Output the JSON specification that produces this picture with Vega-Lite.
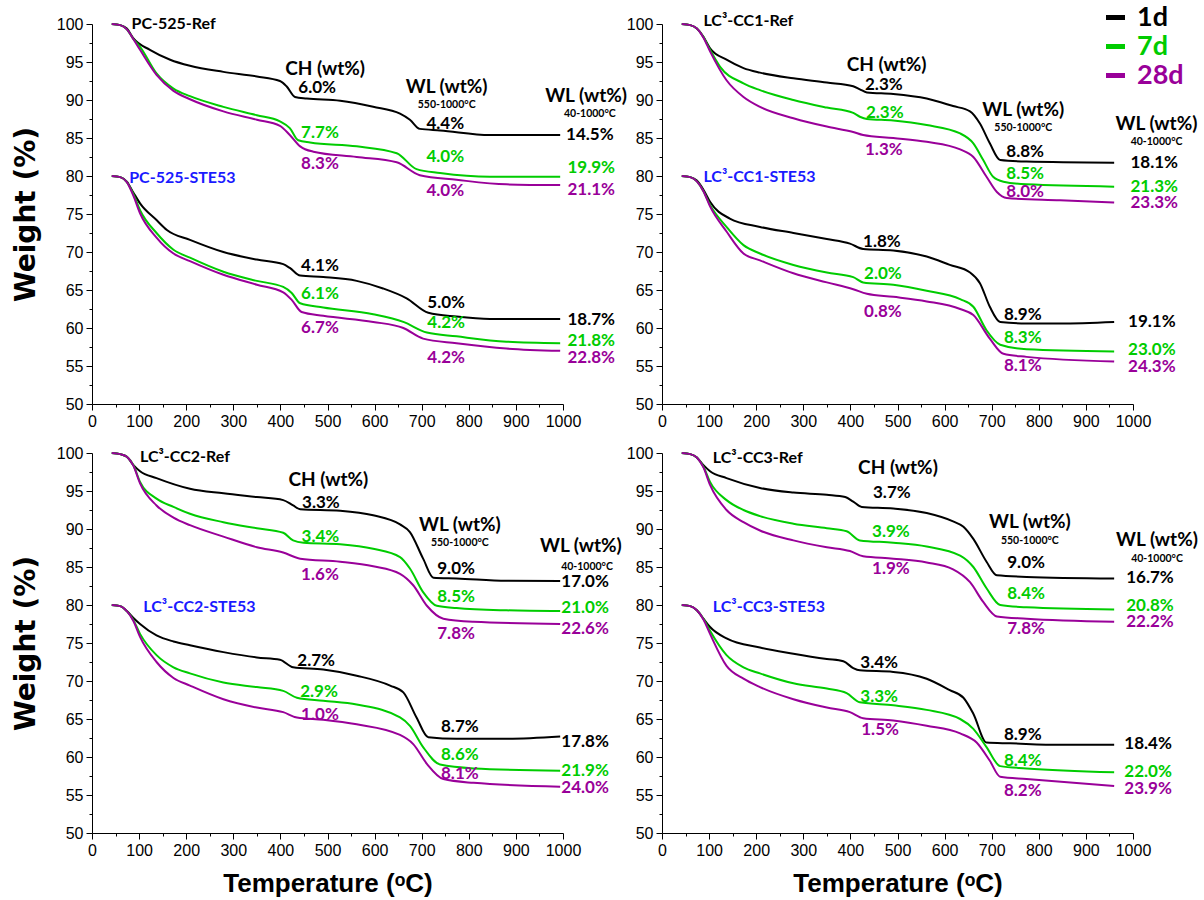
{
"$schema":"https://vega.github.io/schema/vega-lite/v6.json",
"padding":{"left":12,"top":4,"right":5,"bottom":5},
"background":"white",
"config":{
 "view":{"stroke":null},
 "font":"Lato",
 "axis":{"grid":false,"domainColor":"#000000","tickColor":"#000000","labelColor":"#000000","labelFont":"Liberation Sans","labelFontSize":16,"tickSize":6,"labelPadding":3,"titleColor":"#000000","titleFontWeight":"bold","labelOverlap":false,"labelFlush":false,"format":"d"},
 "axisX":{"titleFont":"Liberation Sans","titleFontSize":26,"titlePadding":12},
 "axisY":{"titleFont":"DejaVu Sans","titleFontSize":28,"titlePadding":16},
 "legend":{"orient":"none","legendX":1010,"legendY":-20,"symbolType":"stroke","symbolStrokeWidth":5,"symbolSize":360,"labelFont":"Lato","labelFontWeight":"bold","labelFontSize":27,"labelOffset":8,"rowPadding":1,"padding":0},
 "style":{
  "val":{"font":"Lato","fontWeight":"bold","fontSize":17,"align":"center","baseline":"middle"},
  "hdr":{"font":"Lato","fontWeight":"bold","fontSize":19,"align":"center","baseline":"middle","color":"#000000"},
  "sub":{"font":"Lato","fontWeight":"bold","fontSize":10.5,"align":"center","baseline":"middle","color":"#000000"},
  "tr":{"font":"Lato","fontWeight":"bold","fontSize":16,"align":"left","baseline":"middle","color":"#000000"},
  "te":{"font":"Lato","fontWeight":"bold","fontSize":16,"align":"left","baseline":"middle","color":"#1a1aff"}
 }
},
"datasets":{
"L":[
{"p":"PC","g":"R","a":"1d","T":42,"w":100},{"p":"PC","g":"R","a":"1d","T":60,"w":99.85},{"p":"PC","g":"R","a":"1d","T":74,"w":99.4},{"p":"PC","g":"R","a":"1d","T":88,"w":98.1},{"p":"PC","g":"R","a":"1d","T":123,"w":96.6},{"p":"PC","g":"R","a":"1d","T":166,"w":95.3},{"p":"PC","g":"R","a":"1d","T":208,"w":94.5},{"p":"PC","g":"R","a":"1d","T":279,"w":93.7},{"p":"PC","g":"R","a":"1d","T":350,"w":93.1},{"p":"PC","g":"R","a":"1d","T":399,"w":92.5},{"p":"PC","g":"R","a":"1d","T":413,"w":91.8},{"p":"PC","g":"R","a":"1d","T":431,"w":90.4},{"p":"PC","g":"R","a":"1d","T":456,"w":90.2},{"p":"PC","g":"R","a":"1d","T":527,"w":89.9},{"p":"PC","g":"R","a":"1d","T":597,"w":89.1},{"p":"PC","g":"R","a":"1d","T":654,"w":88.2},{"p":"PC","g":"R","a":"1d","T":675,"w":87.4},{"p":"PC","g":"R","a":"1d","T":696,"w":86.2},{"p":"PC","g":"R","a":"1d","T":739,"w":86.0},{"p":"PC","g":"R","a":"1d","T":845,"w":85.4},{"p":"PC","g":"R","a":"1d","T":994,"w":85.4},
{"p":"PC","g":"R","a":"7d","T":42,"w":100},{"p":"PC","g":"R","a":"7d","T":60,"w":99.85},{"p":"PC","g":"R","a":"7d","T":74,"w":99.3},{"p":"PC","g":"R","a":"7d","T":88,"w":98.0},{"p":"PC","g":"R","a":"7d","T":102,"w":97.0},{"p":"PC","g":"R","a":"7d","T":137,"w":93.5},{"p":"PC","g":"R","a":"7d","T":173,"w":91.5},{"p":"PC","g":"R","a":"7d","T":208,"w":90.5},{"p":"PC","g":"R","a":"7d","T":279,"w":89.1},{"p":"PC","g":"R","a":"7d","T":350,"w":88.0},{"p":"PC","g":"R","a":"7d","T":399,"w":87.2},{"p":"PC","g":"R","a":"7d","T":420,"w":86.3},{"p":"PC","g":"R","a":"7d","T":438,"w":84.7},{"p":"PC","g":"R","a":"7d","T":463,"w":84.4},{"p":"PC","g":"R","a":"7d","T":562,"w":83.9},{"p":"PC","g":"R","a":"7d","T":647,"w":83.0},{"p":"PC","g":"R","a":"7d","T":689,"w":80.9},{"p":"PC","g":"R","a":"7d","T":739,"w":80.4},{"p":"PC","g":"R","a":"7d","T":845,"w":79.9},{"p":"PC","g":"R","a":"7d","T":994,"w":79.9},
{"p":"PC","g":"R","a":"28d","T":42,"w":100},{"p":"PC","g":"R","a":"28d","T":60,"w":99.85},{"p":"PC","g":"R","a":"28d","T":74,"w":99.3},{"p":"PC","g":"R","a":"28d","T":88,"w":98.0},{"p":"PC","g":"R","a":"28d","T":102,"w":96.6},{"p":"PC","g":"R","a":"28d","T":137,"w":93.3},{"p":"PC","g":"R","a":"28d","T":173,"w":91.2},{"p":"PC","g":"R","a":"28d","T":208,"w":90.1},{"p":"PC","g":"R","a":"28d","T":279,"w":88.5},{"p":"PC","g":"R","a":"28d","T":350,"w":87.4},{"p":"PC","g":"R","a":"28d","T":399,"w":86.6},{"p":"PC","g":"R","a":"28d","T":420,"w":85.4},{"p":"PC","g":"R","a":"28d","T":442,"w":83.9},{"p":"PC","g":"R","a":"28d","T":470,"w":83.2},{"p":"PC","g":"R","a":"28d","T":562,"w":82.5},{"p":"PC","g":"R","a":"28d","T":647,"w":81.8},{"p":"PC","g":"R","a":"28d","T":696,"w":80.1},{"p":"PC","g":"R","a":"28d","T":774,"w":79.5},{"p":"PC","g":"R","a":"28d","T":880,"w":78.9},{"p":"PC","g":"R","a":"28d","T":994,"w":78.8},
{"p":"PC","g":"S","a":"1d","T":42,"w":80},{"p":"PC","g":"S","a":"1d","T":60,"w":79.85},{"p":"PC","g":"S","a":"1d","T":74,"w":79.25},{"p":"PC","g":"S","a":"1d","T":88,"w":77.8},{"p":"PC","g":"S","a":"1d","T":102,"w":76.4},{"p":"PC","g":"S","a":"1d","T":137,"w":74.2},{"p":"PC","g":"S","a":"1d","T":159,"w":72.9},{"p":"PC","g":"S","a":"1d","T":208,"w":71.6},{"p":"PC","g":"S","a":"1d","T":279,"w":70.0},{"p":"PC","g":"S","a":"1d","T":350,"w":69.0},{"p":"PC","g":"S","a":"1d","T":406,"w":68.4},{"p":"PC","g":"S","a":"1d","T":420,"w":67.9},{"p":"PC","g":"S","a":"1d","T":442,"w":66.9},{"p":"PC","g":"S","a":"1d","T":491,"w":66.7},{"p":"PC","g":"S","a":"1d","T":562,"w":66.2},{"p":"PC","g":"S","a":"1d","T":618,"w":65.2},{"p":"PC","g":"S","a":"1d","T":668,"w":63.9},{"p":"PC","g":"S","a":"1d","T":714,"w":62.0},{"p":"PC","g":"S","a":"1d","T":774,"w":61.5},{"p":"PC","g":"S","a":"1d","T":845,"w":61.2},{"p":"PC","g":"S","a":"1d","T":994,"w":61.2},
{"p":"PC","g":"S","a":"7d","T":42,"w":80},{"p":"PC","g":"S","a":"7d","T":60,"w":79.85},{"p":"PC","g":"S","a":"7d","T":74,"w":79.2},{"p":"PC","g":"S","a":"7d","T":88,"w":77.6},{"p":"PC","g":"S","a":"7d","T":102,"w":75.5},{"p":"PC","g":"S","a":"7d","T":137,"w":72.5},{"p":"PC","g":"S","a":"7d","T":173,"w":70.3},{"p":"PC","g":"S","a":"7d","T":208,"w":69.25},{"p":"PC","g":"S","a":"7d","T":279,"w":67.4},{"p":"PC","g":"S","a":"7d","T":350,"w":66.2},{"p":"PC","g":"S","a":"7d","T":406,"w":65.4},{"p":"PC","g":"S","a":"7d","T":424,"w":64.6},{"p":"PC","g":"S","a":"7d","T":442,"w":63.25},{"p":"PC","g":"S","a":"7d","T":491,"w":62.7},{"p":"PC","g":"S","a":"7d","T":597,"w":61.8},{"p":"PC","g":"S","a":"7d","T":661,"w":60.8},{"p":"PC","g":"S","a":"7d","T":711,"w":59.4},{"p":"PC","g":"S","a":"7d","T":774,"w":58.9},{"p":"PC","g":"S","a":"7d","T":880,"w":58.2},{"p":"PC","g":"S","a":"7d","T":994,"w":58.0},
{"p":"PC","g":"S","a":"28d","T":42,"w":80},{"p":"PC","g":"S","a":"28d","T":60,"w":79.85},{"p":"PC","g":"S","a":"28d","T":74,"w":79.2},{"p":"PC","g":"S","a":"28d","T":88,"w":77.4},{"p":"PC","g":"S","a":"28d","T":102,"w":75.1},{"p":"PC","g":"S","a":"28d","T":137,"w":71.9},{"p":"PC","g":"S","a":"28d","T":173,"w":69.8},{"p":"PC","g":"S","a":"28d","T":208,"w":68.8},{"p":"PC","g":"S","a":"28d","T":279,"w":67.0},{"p":"PC","g":"S","a":"28d","T":350,"w":65.7},{"p":"PC","g":"S","a":"28d","T":406,"w":64.7},{"p":"PC","g":"S","a":"28d","T":424,"w":63.7},{"p":"PC","g":"S","a":"28d","T":445,"w":62.1},{"p":"PC","g":"S","a":"28d","T":491,"w":61.6},{"p":"PC","g":"S","a":"28d","T":597,"w":60.8},{"p":"PC","g":"S","a":"28d","T":661,"w":60.0},{"p":"PC","g":"S","a":"28d","T":703,"w":58.6},{"p":"PC","g":"S","a":"28d","T":774,"w":58.0},{"p":"PC","g":"S","a":"28d","T":880,"w":57.3},{"p":"PC","g":"S","a":"28d","T":994,"w":57.0},
{"p":"C1","g":"R","a":"1d","T":42,"w":100},{"p":"C1","g":"R","a":"1d","T":60,"w":99.85},{"p":"C1","g":"R","a":"1d","T":74,"w":99.4},{"p":"C1","g":"R","a":"1d","T":88,"w":98.3},{"p":"C1","g":"R","a":"1d","T":102,"w":96.8},{"p":"C1","g":"R","a":"1d","T":137,"w":95.3},{"p":"C1","g":"R","a":"1d","T":173,"w":94.2},{"p":"C1","g":"R","a":"1d","T":208,"w":93.6},{"p":"C1","g":"R","a":"1d","T":279,"w":92.85},{"p":"C1","g":"R","a":"1d","T":350,"w":92.3},{"p":"C1","g":"R","a":"1d","T":406,"w":91.8},{"p":"C1","g":"R","a":"1d","T":420,"w":91.4},{"p":"C1","g":"R","a":"1d","T":435,"w":91.0},{"p":"C1","g":"R","a":"1d","T":491,"w":90.8},{"p":"C1","g":"R","a":"1d","T":562,"w":90.2},{"p":"C1","g":"R","a":"1d","T":618,"w":89.2},{"p":"C1","g":"R","a":"1d","T":654,"w":88.5},{"p":"C1","g":"R","a":"1d","T":675,"w":86.9},{"p":"C1","g":"R","a":"1d","T":696,"w":84.3},{"p":"C1","g":"R","a":"1d","T":718,"w":82.1},{"p":"C1","g":"R","a":"1d","T":774,"w":81.9},{"p":"C1","g":"R","a":"1d","T":960,"w":81.75},
{"p":"C1","g":"R","a":"7d","T":42,"w":100},{"p":"C1","g":"R","a":"7d","T":60,"w":99.85},{"p":"C1","g":"R","a":"7d","T":74,"w":99.4},{"p":"C1","g":"R","a":"7d","T":88,"w":98.3},{"p":"C1","g":"R","a":"7d","T":102,"w":96.6},{"p":"C1","g":"R","a":"7d","T":123,"w":94.4},{"p":"C1","g":"R","a":"7d","T":173,"w":92.2},{"p":"C1","g":"R","a":"7d","T":208,"w":91.3},{"p":"C1","g":"R","a":"7d","T":279,"w":90.0},{"p":"C1","g":"R","a":"7d","T":350,"w":89.0},{"p":"C1","g":"R","a":"7d","T":406,"w":88.3},{"p":"C1","g":"R","a":"7d","T":420,"w":87.8},{"p":"C1","g":"R","a":"7d","T":435,"w":87.5},{"p":"C1","g":"R","a":"7d","T":491,"w":87.3},{"p":"C1","g":"R","a":"7d","T":562,"w":86.7},{"p":"C1","g":"R","a":"7d","T":633,"w":85.6},{"p":"C1","g":"R","a":"7d","T":661,"w":84.3},{"p":"C1","g":"R","a":"7d","T":682,"w":82.1},{"p":"C1","g":"R","a":"7d","T":703,"w":79.9},{"p":"C1","g":"R","a":"7d","T":725,"w":79.25},{"p":"C1","g":"R","a":"7d","T":774,"w":78.9},{"p":"C1","g":"R","a":"7d","T":960,"w":78.6},
{"p":"C1","g":"R","a":"28d","T":42,"w":100},{"p":"C1","g":"R","a":"28d","T":60,"w":99.85},{"p":"C1","g":"R","a":"28d","T":74,"w":99.4},{"p":"C1","g":"R","a":"28d","T":88,"w":98.2},{"p":"C1","g":"R","a":"28d","T":102,"w":96.4},{"p":"C1","g":"R","a":"28d","T":137,"w":92.6},{"p":"C1","g":"R","a":"28d","T":173,"w":90.4},{"p":"C1","g":"R","a":"28d","T":208,"w":89.1},{"p":"C1","g":"R","a":"28d","T":279,"w":87.6},{"p":"C1","g":"R","a":"28d","T":350,"w":86.5},{"p":"C1","g":"R","a":"28d","T":406,"w":85.8},{"p":"C1","g":"R","a":"28d","T":427,"w":85.4},{"p":"C1","g":"R","a":"28d","T":491,"w":85.0},{"p":"C1","g":"R","a":"28d","T":562,"w":84.5},{"p":"C1","g":"R","a":"28d","T":633,"w":83.5},{"p":"C1","g":"R","a":"28d","T":661,"w":82.5},{"p":"C1","g":"R","a":"28d","T":689,"w":79.9},{"p":"C1","g":"R","a":"28d","T":711,"w":77.9},{"p":"C1","g":"R","a":"28d","T":732,"w":77.1},{"p":"C1","g":"R","a":"28d","T":845,"w":76.8},{"p":"C1","g":"R","a":"28d","T":960,"w":76.5},
{"p":"C1","g":"S","a":"1d","T":42,"w":80},{"p":"C1","g":"S","a":"1d","T":60,"w":79.85},{"p":"C1","g":"S","a":"1d","T":74,"w":79.4},{"p":"C1","g":"S","a":"1d","T":88,"w":78.2},{"p":"C1","g":"S","a":"1d","T":102,"w":76.6},{"p":"C1","g":"S","a":"1d","T":144,"w":74.4},{"p":"C1","g":"S","a":"1d","T":208,"w":73.3},{"p":"C1","g":"S","a":"1d","T":279,"w":72.5},{"p":"C1","g":"S","a":"1d","T":350,"w":71.7},{"p":"C1","g":"S","a":"1d","T":399,"w":71.1},{"p":"C1","g":"S","a":"1d","T":427,"w":70.4},{"p":"C1","g":"S","a":"1d","T":491,"w":70.2},{"p":"C1","g":"S","a":"1d","T":562,"w":69.4},{"p":"C1","g":"S","a":"1d","T":611,"w":68.3},{"p":"C1","g":"S","a":"1d","T":654,"w":67.3},{"p":"C1","g":"S","a":"1d","T":675,"w":65.9},{"p":"C1","g":"S","a":"1d","T":696,"w":62.8},{"p":"C1","g":"S","a":"1d","T":718,"w":60.8},{"p":"C1","g":"S","a":"1d","T":774,"w":60.6},{"p":"C1","g":"S","a":"1d","T":845,"w":60.6},{"p":"C1","g":"S","a":"1d","T":960,"w":60.8},
{"p":"C1","g":"S","a":"7d","T":42,"w":80},{"p":"C1","g":"S","a":"7d","T":60,"w":79.85},{"p":"C1","g":"S","a":"7d","T":74,"w":79.3},{"p":"C1","g":"S","a":"7d","T":88,"w":78.0},{"p":"C1","g":"S","a":"7d","T":102,"w":76.2},{"p":"C1","g":"S","a":"7d","T":137,"w":73.3},{"p":"C1","g":"S","a":"7d","T":173,"w":70.9},{"p":"C1","g":"S","a":"7d","T":208,"w":69.8},{"p":"C1","g":"S","a":"7d","T":279,"w":68.3},{"p":"C1","g":"S","a":"7d","T":350,"w":67.3},{"p":"C1","g":"S","a":"7d","T":406,"w":66.7},{"p":"C1","g":"S","a":"7d","T":427,"w":66.0},{"p":"C1","g":"S","a":"7d","T":491,"w":65.7},{"p":"C1","g":"S","a":"7d","T":562,"w":64.9},{"p":"C1","g":"S","a":"7d","T":633,"w":63.8},{"p":"C1","g":"S","a":"7d","T":661,"w":62.8},{"p":"C1","g":"S","a":"7d","T":689,"w":59.7},{"p":"C1","g":"S","a":"7d","T":718,"w":57.8},{"p":"C1","g":"S","a":"7d","T":774,"w":57.2},{"p":"C1","g":"S","a":"7d","T":960,"w":56.9},
{"p":"C1","g":"S","a":"28d","T":42,"w":80},{"p":"C1","g":"S","a":"28d","T":60,"w":79.85},{"p":"C1","g":"S","a":"28d","T":74,"w":79.3},{"p":"C1","g":"S","a":"28d","T":88,"w":78.0},{"p":"C1","g":"S","a":"28d","T":102,"w":76.0},{"p":"C1","g":"S","a":"28d","T":137,"w":72.7},{"p":"C1","g":"S","a":"28d","T":173,"w":69.8},{"p":"C1","g":"S","a":"28d","T":208,"w":68.9},{"p":"C1","g":"S","a":"28d","T":279,"w":67.2},{"p":"C1","g":"S","a":"28d","T":350,"w":66.0},{"p":"C1","g":"S","a":"28d","T":406,"w":65.1},{"p":"C1","g":"S","a":"28d","T":435,"w":64.5},{"p":"C1","g":"S","a":"28d","T":491,"w":64.1},{"p":"C1","g":"S","a":"28d","T":562,"w":63.5},{"p":"C1","g":"S","a":"28d","T":633,"w":62.5},{"p":"C1","g":"S","a":"28d","T":661,"w":61.7},{"p":"C1","g":"S","a":"28d","T":696,"w":58.6},{"p":"C1","g":"S","a":"28d","T":725,"w":56.6},{"p":"C1","g":"S","a":"28d","T":774,"w":56.2},{"p":"C1","g":"S","a":"28d","T":960,"w":55.6},
{"p":"C2","g":"R","a":"1d","T":42,"w":100},{"p":"C2","g":"R","a":"1d","T":60,"w":99.85},{"p":"C2","g":"R","a":"1d","T":74,"w":99.5},{"p":"C2","g":"R","a":"1d","T":88,"w":98.4},{"p":"C2","g":"R","a":"1d","T":102,"w":97.6},{"p":"C2","g":"R","a":"1d","T":137,"w":96.7},{"p":"C2","g":"R","a":"1d","T":208,"w":95.3},{"p":"C2","g":"R","a":"1d","T":279,"w":94.7},{"p":"C2","g":"R","a":"1d","T":350,"w":94.2},{"p":"C2","g":"R","a":"1d","T":406,"w":93.8},{"p":"C2","g":"R","a":"1d","T":427,"w":93.1},{"p":"C2","g":"R","a":"1d","T":442,"w":92.6},{"p":"C2","g":"R","a":"1d","T":527,"w":92.4},{"p":"C2","g":"R","a":"1d","T":597,"w":91.8},{"p":"C2","g":"R","a":"1d","T":654,"w":90.6},{"p":"C2","g":"R","a":"1d","T":675,"w":89.6},{"p":"C2","g":"R","a":"1d","T":703,"w":86.1},{"p":"C2","g":"R","a":"1d","T":725,"w":83.6},{"p":"C2","g":"R","a":"1d","T":774,"w":83.5},{"p":"C2","g":"R","a":"1d","T":880,"w":83.2},{"p":"C2","g":"R","a":"1d","T":994,"w":83.15},
{"p":"C2","g":"R","a":"7d","T":42,"w":100},{"p":"C2","g":"R","a":"7d","T":60,"w":99.85},{"p":"C2","g":"R","a":"7d","T":74,"w":99.5},{"p":"C2","g":"R","a":"7d","T":88,"w":98.4},{"p":"C2","g":"R","a":"7d","T":102,"w":96.2},{"p":"C2","g":"R","a":"7d","T":137,"w":94.0},{"p":"C2","g":"R","a":"7d","T":173,"w":92.9},{"p":"C2","g":"R","a":"7d","T":208,"w":92.0},{"p":"C2","g":"R","a":"7d","T":279,"w":90.9},{"p":"C2","g":"R","a":"7d","T":350,"w":90.1},{"p":"C2","g":"R","a":"7d","T":406,"w":89.5},{"p":"C2","g":"R","a":"7d","T":427,"w":88.5},{"p":"C2","g":"R","a":"7d","T":449,"w":88.2},{"p":"C2","g":"R","a":"7d","T":527,"w":88.0},{"p":"C2","g":"R","a":"7d","T":597,"w":87.4},{"p":"C2","g":"R","a":"7d","T":654,"w":86.3},{"p":"C2","g":"R","a":"7d","T":675,"w":84.8},{"p":"C2","g":"R","a":"7d","T":703,"w":81.7},{"p":"C2","g":"R","a":"7d","T":732,"w":79.9},{"p":"C2","g":"R","a":"7d","T":774,"w":79.6},{"p":"C2","g":"R","a":"7d","T":880,"w":79.3},{"p":"C2","g":"R","a":"7d","T":994,"w":79.2},
{"p":"C2","g":"R","a":"28d","T":42,"w":100},{"p":"C2","g":"R","a":"28d","T":60,"w":99.85},{"p":"C2","g":"R","a":"28d","T":74,"w":99.5},{"p":"C2","g":"R","a":"28d","T":88,"w":98.3},{"p":"C2","g":"R","a":"28d","T":102,"w":96.0},{"p":"C2","g":"R","a":"28d","T":137,"w":93.1},{"p":"C2","g":"R","a":"28d","T":173,"w":91.5},{"p":"C2","g":"R","a":"28d","T":208,"w":90.5},{"p":"C2","g":"R","a":"28d","T":279,"w":89.0},{"p":"C2","g":"R","a":"28d","T":350,"w":87.6},{"p":"C2","g":"R","a":"28d","T":406,"w":86.9},{"p":"C2","g":"R","a":"28d","T":442,"w":86.1},{"p":"C2","g":"R","a":"28d","T":527,"w":85.7},{"p":"C2","g":"R","a":"28d","T":597,"w":85.1},{"p":"C2","g":"R","a":"28d","T":654,"w":84.1},{"p":"C2","g":"R","a":"28d","T":682,"w":82.6},{"p":"C2","g":"R","a":"28d","T":711,"w":79.9},{"p":"C2","g":"R","a":"28d","T":746,"w":78.2},{"p":"C2","g":"R","a":"28d","T":810,"w":77.8},{"p":"C2","g":"R","a":"28d","T":994,"w":77.5},
{"p":"C2","g":"S","a":"1d","T":42,"w":80},{"p":"C2","g":"S","a":"1d","T":60,"w":79.85},{"p":"C2","g":"S","a":"1d","T":74,"w":79.2},{"p":"C2","g":"S","a":"1d","T":88,"w":78.3},{"p":"C2","g":"S","a":"1d","T":102,"w":77.5},{"p":"C2","g":"S","a":"1d","T":137,"w":76.0},{"p":"C2","g":"S","a":"1d","T":173,"w":75.2},{"p":"C2","g":"S","a":"1d","T":208,"w":74.7},{"p":"C2","g":"S","a":"1d","T":279,"w":73.8},{"p":"C2","g":"S","a":"1d","T":350,"w":73.1},{"p":"C2","g":"S","a":"1d","T":399,"w":72.8},{"p":"C2","g":"S","a":"1d","T":427,"w":71.8},{"p":"C2","g":"S","a":"1d","T":491,"w":71.5},{"p":"C2","g":"S","a":"1d","T":562,"w":70.7},{"p":"C2","g":"S","a":"1d","T":633,"w":69.4},{"p":"C2","g":"S","a":"1d","T":661,"w":68.5},{"p":"C2","g":"S","a":"1d","T":689,"w":65.2},{"p":"C2","g":"S","a":"1d","T":714,"w":62.6},{"p":"C2","g":"S","a":"1d","T":774,"w":62.4},{"p":"C2","g":"S","a":"1d","T":880,"w":62.4},{"p":"C2","g":"S","a":"1d","T":994,"w":62.7},
{"p":"C2","g":"S","a":"7d","T":42,"w":80},{"p":"C2","g":"S","a":"7d","T":60,"w":79.85},{"p":"C2","g":"S","a":"7d","T":74,"w":79.2},{"p":"C2","g":"S","a":"7d","T":88,"w":78.0},{"p":"C2","g":"S","a":"7d","T":102,"w":76.2},{"p":"C2","g":"S","a":"7d","T":137,"w":73.4},{"p":"C2","g":"S","a":"7d","T":173,"w":71.8},{"p":"C2","g":"S","a":"7d","T":208,"w":71.0},{"p":"C2","g":"S","a":"7d","T":279,"w":69.8},{"p":"C2","g":"S","a":"7d","T":350,"w":69.2},{"p":"C2","g":"S","a":"7d","T":406,"w":68.7},{"p":"C2","g":"S","a":"7d","T":435,"w":67.8},{"p":"C2","g":"S","a":"7d","T":491,"w":67.4},{"p":"C2","g":"S","a":"7d","T":562,"w":66.9},{"p":"C2","g":"S","a":"7d","T":654,"w":65.2},{"p":"C2","g":"S","a":"7d","T":675,"w":64.1},{"p":"C2","g":"S","a":"7d","T":703,"w":61.3},{"p":"C2","g":"S","a":"7d","T":739,"w":59.0},{"p":"C2","g":"S","a":"7d","T":810,"w":58.5},{"p":"C2","g":"S","a":"7d","T":994,"w":58.2},
{"p":"C2","g":"S","a":"28d","T":42,"w":80},{"p":"C2","g":"S","a":"28d","T":60,"w":79.85},{"p":"C2","g":"S","a":"28d","T":74,"w":79.2},{"p":"C2","g":"S","a":"28d","T":88,"w":77.9},{"p":"C2","g":"S","a":"28d","T":102,"w":75.8},{"p":"C2","g":"S","a":"28d","T":137,"w":72.5},{"p":"C2","g":"S","a":"28d","T":173,"w":70.4},{"p":"C2","g":"S","a":"28d","T":208,"w":69.4},{"p":"C2","g":"S","a":"28d","T":279,"w":67.6},{"p":"C2","g":"S","a":"28d","T":350,"w":66.5},{"p":"C2","g":"S","a":"28d","T":406,"w":65.9},{"p":"C2","g":"S","a":"28d","T":435,"w":65.2},{"p":"C2","g":"S","a":"28d","T":491,"w":64.9},{"p":"C2","g":"S","a":"28d","T":562,"w":64.3},{"p":"C2","g":"S","a":"28d","T":654,"w":62.9},{"p":"C2","g":"S","a":"28d","T":682,"w":61.7},{"p":"C2","g":"S","a":"28d","T":711,"w":59.1},{"p":"C2","g":"S","a":"28d","T":746,"w":57.1},{"p":"C2","g":"S","a":"28d","T":810,"w":56.6},{"p":"C2","g":"S","a":"28d","T":994,"w":56.1},
{"p":"C3","g":"R","a":"1d","T":42,"w":100},{"p":"C3","g":"R","a":"1d","T":60,"w":99.85},{"p":"C3","g":"R","a":"1d","T":74,"w":99.4},{"p":"C3","g":"R","a":"1d","T":88,"w":98.4},{"p":"C3","g":"R","a":"1d","T":102,"w":97.6},{"p":"C3","g":"R","a":"1d","T":137,"w":96.7},{"p":"C3","g":"R","a":"1d","T":208,"w":95.4},{"p":"C3","g":"R","a":"1d","T":279,"w":94.8},{"p":"C3","g":"R","a":"1d","T":350,"w":94.5},{"p":"C3","g":"R","a":"1d","T":389,"w":94.2},{"p":"C3","g":"R","a":"1d","T":406,"w":93.6},{"p":"C3","g":"R","a":"1d","T":424,"w":92.9},{"p":"C3","g":"R","a":"1d","T":491,"w":92.7},{"p":"C3","g":"R","a":"1d","T":562,"w":92.1},{"p":"C3","g":"R","a":"1d","T":618,"w":91.0},{"p":"C3","g":"R","a":"1d","T":640,"w":90.3},{"p":"C3","g":"R","a":"1d","T":661,"w":88.7},{"p":"C3","g":"R","a":"1d","T":689,"w":85.7},{"p":"C3","g":"R","a":"1d","T":711,"w":83.9},{"p":"C3","g":"R","a":"1d","T":774,"w":83.7},{"p":"C3","g":"R","a":"1d","T":960,"w":83.5},
{"p":"C3","g":"R","a":"7d","T":42,"w":100},{"p":"C3","g":"R","a":"7d","T":60,"w":99.85},{"p":"C3","g":"R","a":"7d","T":74,"w":99.4},{"p":"C3","g":"R","a":"7d","T":88,"w":98.2},{"p":"C3","g":"R","a":"7d","T":102,"w":96.2},{"p":"C3","g":"R","a":"7d","T":137,"w":93.8},{"p":"C3","g":"R","a":"7d","T":173,"w":92.5},{"p":"C3","g":"R","a":"7d","T":208,"w":91.7},{"p":"C3","g":"R","a":"7d","T":279,"w":90.7},{"p":"C3","g":"R","a":"7d","T":350,"w":90.1},{"p":"C3","g":"R","a":"7d","T":392,"w":89.7},{"p":"C3","g":"R","a":"7d","T":420,"w":88.5},{"p":"C3","g":"R","a":"7d","T":491,"w":88.2},{"p":"C3","g":"R","a":"7d","T":562,"w":87.7},{"p":"C3","g":"R","a":"7d","T":633,"w":86.5},{"p":"C3","g":"R","a":"7d","T":661,"w":85.0},{"p":"C3","g":"R","a":"7d","T":689,"w":82.2},{"p":"C3","g":"R","a":"7d","T":718,"w":80.0},{"p":"C3","g":"R","a":"7d","T":774,"w":79.7},{"p":"C3","g":"R","a":"7d","T":960,"w":79.4},
{"p":"C3","g":"R","a":"28d","T":42,"w":100},{"p":"C3","g":"R","a":"28d","T":60,"w":99.85},{"p":"C3","g":"R","a":"28d","T":74,"w":99.4},{"p":"C3","g":"R","a":"28d","T":88,"w":98.1},{"p":"C3","g":"R","a":"28d","T":102,"w":95.8},{"p":"C3","g":"R","a":"28d","T":137,"w":92.5},{"p":"C3","g":"R","a":"28d","T":173,"w":90.9},{"p":"C3","g":"R","a":"28d","T":208,"w":89.8},{"p":"C3","g":"R","a":"28d","T":279,"w":88.5},{"p":"C3","g":"R","a":"28d","T":350,"w":87.6},{"p":"C3","g":"R","a":"28d","T":399,"w":87.1},{"p":"C3","g":"R","a":"28d","T":427,"w":86.4},{"p":"C3","g":"R","a":"28d","T":491,"w":86.1},{"p":"C3","g":"R","a":"28d","T":562,"w":85.6},{"p":"C3","g":"R","a":"28d","T":618,"w":84.7},{"p":"C3","g":"R","a":"28d","T":654,"w":83.0},{"p":"C3","g":"R","a":"28d","T":682,"w":80.4},{"p":"C3","g":"R","a":"28d","T":711,"w":78.5},{"p":"C3","g":"R","a":"28d","T":774,"w":78.2},{"p":"C3","g":"R","a":"28d","T":960,"w":77.8},
{"p":"C3","g":"S","a":"1d","T":42,"w":80},{"p":"C3","g":"S","a":"1d","T":60,"w":79.85},{"p":"C3","g":"S","a":"1d","T":74,"w":79.3},{"p":"C3","g":"S","a":"1d","T":88,"w":78.2},{"p":"C3","g":"S","a":"1d","T":102,"w":77.1},{"p":"C3","g":"S","a":"1d","T":137,"w":75.6},{"p":"C3","g":"S","a":"1d","T":208,"w":74.4},{"p":"C3","g":"S","a":"1d","T":279,"w":73.6},{"p":"C3","g":"S","a":"1d","T":350,"w":72.9},{"p":"C3","g":"S","a":"1d","T":385,"w":72.6},{"p":"C3","g":"S","a":"1d","T":406,"w":71.7},{"p":"C3","g":"S","a":"1d","T":420,"w":71.4},{"p":"C3","g":"S","a":"1d","T":491,"w":71.2},{"p":"C3","g":"S","a":"1d","T":562,"w":70.3},{"p":"C3","g":"S","a":"1d","T":611,"w":68.8},{"p":"C3","g":"S","a":"1d","T":640,"w":67.8},{"p":"C3","g":"S","a":"1d","T":661,"w":65.7},{"p":"C3","g":"S","a":"1d","T":689,"w":61.9},{"p":"C3","g":"S","a":"1d","T":739,"w":61.8},{"p":"C3","g":"S","a":"1d","T":845,"w":61.6},{"p":"C3","g":"S","a":"1d","T":960,"w":61.6},
{"p":"C3","g":"S","a":"7d","T":42,"w":80},{"p":"C3","g":"S","a":"7d","T":60,"w":79.85},{"p":"C3","g":"S","a":"7d","T":74,"w":79.3},{"p":"C3","g":"S","a":"7d","T":88,"w":78.2},{"p":"C3","g":"S","a":"7d","T":102,"w":76.6},{"p":"C3","g":"S","a":"7d","T":137,"w":73.4},{"p":"C3","g":"S","a":"7d","T":173,"w":71.8},{"p":"C3","g":"S","a":"7d","T":208,"w":71.0},{"p":"C3","g":"S","a":"7d","T":279,"w":69.7},{"p":"C3","g":"S","a":"7d","T":350,"w":69.0},{"p":"C3","g":"S","a":"7d","T":392,"w":68.4},{"p":"C3","g":"S","a":"7d","T":420,"w":67.2},{"p":"C3","g":"S","a":"7d","T":491,"w":66.8},{"p":"C3","g":"S","a":"7d","T":562,"w":66.2},{"p":"C3","g":"S","a":"7d","T":633,"w":65.0},{"p":"C3","g":"S","a":"7d","T":661,"w":63.7},{"p":"C3","g":"S","a":"7d","T":689,"w":61.3},{"p":"C3","g":"S","a":"7d","T":718,"w":58.8},{"p":"C3","g":"S","a":"7d","T":774,"w":58.5},{"p":"C3","g":"S","a":"7d","T":960,"w":58.0},
{"p":"C3","g":"S","a":"28d","T":42,"w":80},{"p":"C3","g":"S","a":"28d","T":60,"w":79.85},{"p":"C3","g":"S","a":"28d","T":74,"w":79.3},{"p":"C3","g":"S","a":"28d","T":88,"w":78.1},{"p":"C3","g":"S","a":"28d","T":102,"w":76.2},{"p":"C3","g":"S","a":"28d","T":137,"w":72.0},{"p":"C3","g":"S","a":"28d","T":173,"w":70.3},{"p":"C3","g":"S","a":"28d","T":208,"w":69.2},{"p":"C3","g":"S","a":"28d","T":279,"w":67.6},{"p":"C3","g":"S","a":"28d","T":350,"w":66.5},{"p":"C3","g":"S","a":"28d","T":399,"w":65.9},{"p":"C3","g":"S","a":"28d","T":427,"w":65.1},{"p":"C3","g":"S","a":"28d","T":491,"w":64.8},{"p":"C3","g":"S","a":"28d","T":562,"w":64.1},{"p":"C3","g":"S","a":"28d","T":633,"w":63.1},{"p":"C3","g":"S","a":"28d","T":668,"w":61.9},{"p":"C3","g":"S","a":"28d","T":696,"w":59.5},{"p":"C3","g":"S","a":"28d","T":718,"w":57.4},{"p":"C3","g":"S","a":"28d","T":774,"w":57.1},{"p":"C3","g":"S","a":"28d","T":960,"w":56.2}
],
"N":[
{"p":"PC","k":"r","a":"","T":84,"w":100.0,"t":"PC-525-Ref"},
{"p":"PC","k":"e","a":"","T":79,"w":79.8,"t":"PC-525-STE53"},
{"p":"PC","k":"h","a":"","T":495,"w":94.1,"t":"CH (wt%)"},
{"p":"PC","k":"h","a":"","T":753,"w":91.75,"t":"WL (wt%)"},
{"p":"PC","k":"h","a":"","T":1049,"w":90.5,"t":"WL (wt%)"},
{"p":"PC","k":"s","a":"","T":753,"w":89.4,"t":"550-1000°C"},
{"p":"PC","k":"s","a":"","T":1057,"w":88.2,"t":"40-1000°C"},
{"p":"PC","k":"v","a":"1d","T":478,"w":91.6,"t":"6.0%"},
{"p":"PC","k":"v","a":"1d","T":750,"w":86.9,"t":"4.4%"},
{"p":"PC","k":"v","a":"1d","T":1057,"w":85.4,"t":"14.5%"},
{"p":"PC","k":"v","a":"1d","T":484,"w":68.2,"t":"4.1%"},
{"p":"PC","k":"v","a":"1d","T":752,"w":63.25,"t":"5.0%"},
{"p":"PC","k":"v","a":"1d","T":1060,"w":61.05,"t":"18.7%"},
{"p":"PC","k":"v","a":"7d","T":484,"w":85.7,"t":"7.7%"},
{"p":"PC","k":"v","a":"7d","T":750,"w":82.45,"t":"4.0%"},
{"p":"PC","k":"v","a":"7d","T":1060,"w":81.05,"t":"19.9%"},
{"p":"PC","k":"v","a":"7d","T":484,"w":64.5,"t":"6.1%"},
{"p":"PC","k":"v","a":"7d","T":752,"w":60.6,"t":"4.2%"},
{"p":"PC","k":"v","a":"7d","T":1060,"w":58.3,"t":"21.8%"},
{"p":"PC","k":"v","a":"28d","T":484,"w":81.6,"t":"8.3%"},
{"p":"PC","k":"v","a":"28d","T":750,"w":78.0,"t":"4.0%"},
{"p":"PC","k":"v","a":"28d","T":1060,"w":78.2,"t":"21.1%"},
{"p":"PC","k":"v","a":"28d","T":484,"w":59.95,"t":"6.7%"},
{"p":"PC","k":"v","a":"28d","T":752,"w":56.0,"t":"4.2%"},
{"p":"PC","k":"v","a":"28d","T":1060,"w":56.1,"t":"22.8%"},
{"p":"C1","k":"r","a":"","T":88,"w":100.4,"t":"LC³-CC1-Ref"},
{"p":"C1","k":"e","a":"","T":88,"w":79.9,"t":"LC³-CC1-STE53"},
{"p":"C1","k":"h","a":"","T":477,"w":94.6,"t":"CH (wt%)"},
{"p":"C1","k":"h","a":"","T":767,"w":88.7,"t":"WL (wt%)"},
{"p":"C1","k":"h","a":"","T":1050,"w":86.9,"t":"WL (wt%)"},
{"p":"C1","k":"s","a":"","T":767,"w":86.3,"t":"550-1000°C"},
{"p":"C1","k":"s","a":"","T":1050,"w":84.5,"t":"40-1000°C"},
{"p":"C1","k":"v","a":"1d","T":471,"w":92.0,"t":"2.3%"},
{"p":"C1","k":"v","a":"1d","T":771,"w":83.1,"t":"8.8%"},
{"p":"C1","k":"v","a":"1d","T":1045,"w":81.7,"t":"18.1%"},
{"p":"C1","k":"v","a":"1d","T":467,"w":71.3,"t":"1.8%"},
{"p":"C1","k":"v","a":"1d","T":766,"w":61.7,"t":"8.9%"},
{"p":"C1","k":"v","a":"1d","T":1040,"w":60.8,"t":"19.1%"},
{"p":"C1","k":"v","a":"7d","T":473,"w":88.3,"t":"2.3%"},
{"p":"C1","k":"v","a":"7d","T":771,"w":80.3,"t":"8.5%"},
{"p":"C1","k":"v","a":"7d","T":1045,"w":78.6,"t":"21.3%"},
{"p":"C1","k":"v","a":"7d","T":469,"w":67.1,"t":"2.0%"},
{"p":"C1","k":"v","a":"7d","T":766,"w":58.7,"t":"8.3%"},
{"p":"C1","k":"v","a":"7d","T":1040,"w":57.1,"t":"23.0%"},
{"p":"C1","k":"v","a":"28d","T":471,"w":83.4,"t":"1.3%"},
{"p":"C1","k":"v","a":"28d","T":771,"w":77.9,"t":"8.0%"},
{"p":"C1","k":"v","a":"28d","T":1045,"w":76.4,"t":"23.3%"},
{"p":"C1","k":"v","a":"28d","T":469,"w":62.1,"t":"0.8%"},
{"p":"C1","k":"v","a":"28d","T":766,"w":55.0,"t":"8.1%"},
{"p":"C1","k":"v","a":"28d","T":1040,"w":54.9,"t":"24.3%"},
{"p":"C2","k":"r","a":"","T":102,"w":99.5,"t":"LC³-CC2-Ref"},
{"p":"C2","k":"e","a":"","T":109,"w":79.7,"t":"LC³-CC2-STE53"},
{"p":"C2","k":"h","a":"","T":502,"w":96.4,"t":"CH (wt%)"},
{"p":"C2","k":"h","a":"","T":781,"w":90.5,"t":"WL (wt%)"},
{"p":"C2","k":"h","a":"","T":1038,"w":87.7,"t":"WL (wt%)"},
{"p":"C2","k":"s","a":"","T":781,"w":88.2,"t":"550-1000°C"},
{"p":"C2","k":"s","a":"","T":1051,"w":85.0,"t":"40-1000°C"},
{"p":"C2","k":"v","a":"1d","T":486,"w":93.4,"t":"3.3%"},
{"p":"C2","k":"v","a":"1d","T":773,"w":84.7,"t":"9.0%"},
{"p":"C2","k":"v","a":"1d","T":1047,"w":83.0,"t":"17.0%"},
{"p":"C2","k":"v","a":"1d","T":476,"w":72.6,"t":"2.7%"},
{"p":"C2","k":"v","a":"1d","T":781,"w":63.9,"t":"8.7%"},
{"p":"C2","k":"v","a":"1d","T":1047,"w":62.0,"t":"17.8%"},
{"p":"C2","k":"v","a":"7d","T":485,"w":88.96,"t":"3.4%"},
{"p":"C2","k":"v","a":"7d","T":773,"w":81.0,"t":"8.5%"},
{"p":"C2","k":"v","a":"7d","T":1047,"w":79.55,"t":"21.0%"},
{"p":"C2","k":"v","a":"7d","T":482,"w":68.5,"t":"2.9%"},
{"p":"C2","k":"v","a":"7d","T":781,"w":60.2,"t":"8.6%"},
{"p":"C2","k":"v","a":"7d","T":1047,"w":58.2,"t":"21.9%"},
{"p":"C2","k":"v","a":"28d","T":484,"w":84.0,"t":"1.6%"},
{"p":"C2","k":"v","a":"28d","T":773,"w":76.2,"t":"7.8%"},
{"p":"C2","k":"v","a":"28d","T":1047,"w":76.9,"t":"22.6%"},
{"p":"C2","k":"v","a":"28d","T":484,"w":65.5,"t":"1.0%"},
{"p":"C2","k":"v","a":"28d","T":781,"w":57.7,"t":"8.1%"},
{"p":"C2","k":"v","a":"28d","T":1047,"w":55.9,"t":"24.0%"},
{"p":"C3","k":"r","a":"","T":108,"w":99.3,"t":"LC³-CC3-Ref"},
{"p":"C3","k":"e","a":"","T":108,"w":79.8,"t":"LC³-CC3-STE53"},
{"p":"C3","k":"h","a":"","T":501,"w":98.0,"t":"CH (wt%)"},
{"p":"C3","k":"h","a":"","T":781,"w":90.9,"t":"WL (wt%)"},
{"p":"C3","k":"h","a":"","T":1051,"w":88.5,"t":"WL (wt%)"},
{"p":"C3","k":"s","a":"","T":781,"w":88.4,"t":"550-1000°C"},
{"p":"C3","k":"s","a":"","T":1051,"w":86.0,"t":"40-1000°C"},
{"p":"C3","k":"v","a":"1d","T":488,"w":94.7,"t":"3.7%"},
{"p":"C3","k":"v","a":"1d","T":773,"w":85.5,"t":"9.0%"},
{"p":"C3","k":"v","a":"1d","T":1036,"w":83.5,"t":"16.7%"},
{"p":"C3","k":"v","a":"1d","T":461,"w":72.4,"t":"3.4%"},
{"p":"C3","k":"v","a":"1d","T":766,"w":62.9,"t":"8.9%"},
{"p":"C3","k":"v","a":"1d","T":1032,"w":61.7,"t":"18.4%"},
{"p":"C3","k":"v","a":"7d","T":486,"w":89.6,"t":"3.9%"},
{"p":"C3","k":"v","a":"7d","T":773,"w":81.5,"t":"8.4%"},
{"p":"C3","k":"v","a":"7d","T":1036,"w":79.9,"t":"20.8%"},
{"p":"C3","k":"v","a":"7d","T":461,"w":67.9,"t":"3.3%"},
{"p":"C3","k":"v","a":"7d","T":766,"w":59.5,"t":"8.4%"},
{"p":"C3","k":"v","a":"7d","T":1032,"w":58.0,"t":"22.0%"},
{"p":"C3","k":"v","a":"28d","T":486,"w":84.7,"t":"1.9%"},
{"p":"C3","k":"v","a":"28d","T":773,"w":76.8,"t":"7.8%"},
{"p":"C3","k":"v","a":"28d","T":1036,"w":77.7,"t":"22.2%"},
{"p":"C3","k":"v","a":"28d","T":463,"w":63.5,"t":"1.5%"},
{"p":"C3","k":"v","a":"28d","T":766,"w":55.5,"t":"8.2%"},
{"p":"C3","k":"v","a":"28d","T":1032,"w":55.8,"t":"23.9%"}
]
},
"columns":2,
"spacing":{"row":49,"column":99},
"bounds":"flush",
"concat":[
{"width":471,"height":380,"resolve":{"axis":{"x":"independent","y":"independent"}},
 "layer":[
  {"data":{"name":"L"},"transform":[{"filter":"datum.p=='PC'"}],"mark":{"type":"line","strokeWidth":2,"interpolate":"monotone"},
   "encoding":{"x":{"field":"T","type":"quantitative","scale":{"domain":[0,1000],"nice":false},"axis":{"values":[0,100,200,300,400,500,600,700,800,900,1000],"title":null}},
    "y":{"field":"w","type":"quantitative","scale":{"domain":[50,100],"nice":false,"zero":false},"axis":{"values":[50,55,60,65,70,75,80,85,90,95,100],"title":"Weight (%)"}},
    "color":{"field":"a","type":"nominal","scale":{"domain":["1d","7d","28d"],"range":["#000000","#00CC00","#990099"]},"legend":{"title":null,"encode":{"labels":{"update":{"fill":{"scale":"color","field":"value"}}}}}},
    "detail":{"field":"g"}}},
  {"data":{"name":"N"},"transform":[{"filter":"datum.p=='PC'&&datum.k=='v'"}],"mark":{"type":"text","style":"val"},
   "encoding":{"x":{"field":"T","type":"quantitative","axis":{"values":[50,150,250,350,450,550,650,750,850,950],"labels":false,"domain":false,"tickSize":3,"title":null,"orient":"bottom"}},
    "y":{"field":"w","type":"quantitative","axis":{"values":[52.5,57.5,62.5,67.5,72.5,77.5,82.5,87.5,92.5,97.5],"labels":false,"domain":false,"tickSize":3,"title":null,"orient":"left"}},
    "text":{"field":"t"},
    "color":{"field":"a","type":"nominal","scale":{"domain":["1d","7d","28d"],"range":["#000000","#00CC00","#990099"]},"legend":null}}},
  {"data":{"name":"N"},"transform":[{"filter":"datum.p=='PC'&&datum.k=='h'"}],"mark":{"type":"text","style":"hdr"},"encoding":{"x":{"field":"T","type":"quantitative","axis":null},"y":{"field":"w","type":"quantitative","axis":null},"text":{"field":"t"}}},
  {"data":{"name":"N"},"transform":[{"filter":"datum.p=='PC'&&datum.k=='s'"}],"mark":{"type":"text","style":"sub"},"encoding":{"x":{"field":"T","type":"quantitative","axis":null},"y":{"field":"w","type":"quantitative","axis":null},"text":{"field":"t"}}},
  {"data":{"name":"N"},"transform":[{"filter":"datum.p=='PC'&&datum.k=='r'"}],"mark":{"type":"text","style":"tr"},"encoding":{"x":{"field":"T","type":"quantitative","axis":null},"y":{"field":"w","type":"quantitative","axis":null},"text":{"field":"t"}}},
  {"data":{"name":"N"},"transform":[{"filter":"datum.p=='PC'&&datum.k=='e'"}],"mark":{"type":"text","style":"te"},"encoding":{"x":{"field":"T","type":"quantitative","axis":null},"y":{"field":"w","type":"quantitative","axis":null},"text":{"field":"t"}}}
 ]},
{"width":471,"height":380,"resolve":{"axis":{"x":"independent","y":"independent"}},
 "layer":[
  {"data":{"name":"L"},"transform":[{"filter":"datum.p=='C1'"}],"mark":{"type":"line","strokeWidth":2,"interpolate":"monotone"},
   "encoding":{"x":{"field":"T","type":"quantitative","scale":{"domain":[0,1000],"nice":false},"axis":{"values":[0,100,200,300,400,500,600,700,800,900,1000],"title":null}},
    "y":{"field":"w","type":"quantitative","scale":{"domain":[50,100],"nice":false,"zero":false},"axis":{"values":[50,55,60,65,70,75,80,85,90,95,100],"title":null}},
    "color":{"field":"a","type":"nominal","scale":{"domain":["1d","7d","28d"],"range":["#000000","#00CC00","#990099"]},"legend":{"title":null,"encode":{"labels":{"update":{"fill":{"scale":"color","field":"value"}}}}}},
    "detail":{"field":"g"}}},
  {"data":{"name":"N"},"transform":[{"filter":"datum.p=='C1'&&datum.k=='v'"}],"mark":{"type":"text","style":"val"},
   "encoding":{"x":{"field":"T","type":"quantitative","axis":{"values":[50,150,250,350,450,550,650,750,850,950],"labels":false,"domain":false,"tickSize":3,"title":null,"orient":"bottom"}},
    "y":{"field":"w","type":"quantitative","axis":{"values":[52.5,57.5,62.5,67.5,72.5,77.5,82.5,87.5,92.5,97.5],"labels":false,"domain":false,"tickSize":3,"title":null,"orient":"left"}},
    "text":{"field":"t"},
    "color":{"field":"a","type":"nominal","scale":{"domain":["1d","7d","28d"],"range":["#000000","#00CC00","#990099"]},"legend":null}}},
  {"data":{"name":"N"},"transform":[{"filter":"datum.p=='C1'&&datum.k=='h'"}],"mark":{"type":"text","style":"hdr"},"encoding":{"x":{"field":"T","type":"quantitative","axis":null},"y":{"field":"w","type":"quantitative","axis":null},"text":{"field":"t"}}},
  {"data":{"name":"N"},"transform":[{"filter":"datum.p=='C1'&&datum.k=='s'"}],"mark":{"type":"text","style":"sub"},"encoding":{"x":{"field":"T","type":"quantitative","axis":null},"y":{"field":"w","type":"quantitative","axis":null},"text":{"field":"t"}}},
  {"data":{"name":"N"},"transform":[{"filter":"datum.p=='C1'&&datum.k=='r'"}],"mark":{"type":"text","style":"tr"},"encoding":{"x":{"field":"T","type":"quantitative","axis":null},"y":{"field":"w","type":"quantitative","axis":null},"text":{"field":"t"}}},
  {"data":{"name":"N"},"transform":[{"filter":"datum.p=='C1'&&datum.k=='e'"}],"mark":{"type":"text","style":"te"},"encoding":{"x":{"field":"T","type":"quantitative","axis":null},"y":{"field":"w","type":"quantitative","axis":null},"text":{"field":"t"}}}
 ]},
{"width":471,"height":380,"resolve":{"axis":{"x":"independent","y":"independent"}},
 "layer":[
  {"data":{"name":"L"},"transform":[{"filter":"datum.p=='C2'"}],"mark":{"type":"line","strokeWidth":2,"interpolate":"monotone"},
   "encoding":{"x":{"field":"T","type":"quantitative","scale":{"domain":[0,1000],"nice":false},"axis":{"values":[0,100,200,300,400,500,600,700,800,900,1000],"title":"Temperature (ᵒC)"}},
    "y":{"field":"w","type":"quantitative","scale":{"domain":[50,100],"nice":false,"zero":false},"axis":{"values":[50,55,60,65,70,75,80,85,90,95,100],"title":"Weight (%)"}},
    "color":{"field":"a","type":"nominal","scale":{"domain":["1d","7d","28d"],"range":["#000000","#00CC00","#990099"]},"legend":{"title":null,"encode":{"labels":{"update":{"fill":{"scale":"color","field":"value"}}}}}},
    "detail":{"field":"g"}}},
  {"data":{"name":"N"},"transform":[{"filter":"datum.p=='C2'&&datum.k=='v'"}],"mark":{"type":"text","style":"val"},
   "encoding":{"x":{"field":"T","type":"quantitative","axis":{"values":[50,150,250,350,450,550,650,750,850,950],"labels":false,"domain":false,"tickSize":3,"title":null,"orient":"bottom"}},
    "y":{"field":"w","type":"quantitative","axis":{"values":[52.5,57.5,62.5,67.5,72.5,77.5,82.5,87.5,92.5,97.5],"labels":false,"domain":false,"tickSize":3,"title":null,"orient":"left"}},
    "text":{"field":"t"},
    "color":{"field":"a","type":"nominal","scale":{"domain":["1d","7d","28d"],"range":["#000000","#00CC00","#990099"]},"legend":null}}},
  {"data":{"name":"N"},"transform":[{"filter":"datum.p=='C2'&&datum.k=='h'"}],"mark":{"type":"text","style":"hdr"},"encoding":{"x":{"field":"T","type":"quantitative","axis":null},"y":{"field":"w","type":"quantitative","axis":null},"text":{"field":"t"}}},
  {"data":{"name":"N"},"transform":[{"filter":"datum.p=='C2'&&datum.k=='s'"}],"mark":{"type":"text","style":"sub"},"encoding":{"x":{"field":"T","type":"quantitative","axis":null},"y":{"field":"w","type":"quantitative","axis":null},"text":{"field":"t"}}},
  {"data":{"name":"N"},"transform":[{"filter":"datum.p=='C2'&&datum.k=='r'"}],"mark":{"type":"text","style":"tr"},"encoding":{"x":{"field":"T","type":"quantitative","axis":null},"y":{"field":"w","type":"quantitative","axis":null},"text":{"field":"t"}}},
  {"data":{"name":"N"},"transform":[{"filter":"datum.p=='C2'&&datum.k=='e'"}],"mark":{"type":"text","style":"te"},"encoding":{"x":{"field":"T","type":"quantitative","axis":null},"y":{"field":"w","type":"quantitative","axis":null},"text":{"field":"t"}}}
 ]},
{"width":471,"height":380,"resolve":{"axis":{"x":"independent","y":"independent"}},
 "layer":[
  {"data":{"name":"L"},"transform":[{"filter":"datum.p=='C3'"}],"mark":{"type":"line","strokeWidth":2,"interpolate":"monotone"},
   "encoding":{"x":{"field":"T","type":"quantitative","scale":{"domain":[0,1000],"nice":false},"axis":{"values":[0,100,200,300,400,500,600,700,800,900,1000],"title":"Temperature (ᵒC)"}},
    "y":{"field":"w","type":"quantitative","scale":{"domain":[50,100],"nice":false,"zero":false},"axis":{"values":[50,55,60,65,70,75,80,85,90,95,100],"title":null}},
    "color":{"field":"a","type":"nominal","scale":{"domain":["1d","7d","28d"],"range":["#000000","#00CC00","#990099"]},"legend":{"title":null,"encode":{"labels":{"update":{"fill":{"scale":"color","field":"value"}}}}}},
    "detail":{"field":"g"}}},
  {"data":{"name":"N"},"transform":[{"filter":"datum.p=='C3'&&datum.k=='v'"}],"mark":{"type":"text","style":"val"},
   "encoding":{"x":{"field":"T","type":"quantitative","axis":{"values":[50,150,250,350,450,550,650,750,850,950],"labels":false,"domain":false,"tickSize":3,"title":null,"orient":"bottom"}},
    "y":{"field":"w","type":"quantitative","axis":{"values":[52.5,57.5,62.5,67.5,72.5,77.5,82.5,87.5,92.5,97.5],"labels":false,"domain":false,"tickSize":3,"title":null,"orient":"left"}},
    "text":{"field":"t"},
    "color":{"field":"a","type":"nominal","scale":{"domain":["1d","7d","28d"],"range":["#000000","#00CC00","#990099"]},"legend":null}}},
  {"data":{"name":"N"},"transform":[{"filter":"datum.p=='C3'&&datum.k=='h'"}],"mark":{"type":"text","style":"hdr"},"encoding":{"x":{"field":"T","type":"quantitative","axis":null},"y":{"field":"w","type":"quantitative","axis":null},"text":{"field":"t"}}},
  {"data":{"name":"N"},"transform":[{"filter":"datum.p=='C3'&&datum.k=='s'"}],"mark":{"type":"text","style":"sub"},"encoding":{"x":{"field":"T","type":"quantitative","axis":null},"y":{"field":"w","type":"quantitative","axis":null},"text":{"field":"t"}}},
  {"data":{"name":"N"},"transform":[{"filter":"datum.p=='C3'&&datum.k=='r'"}],"mark":{"type":"text","style":"tr"},"encoding":{"x":{"field":"T","type":"quantitative","axis":null},"y":{"field":"w","type":"quantitative","axis":null},"text":{"field":"t"}}},
  {"data":{"name":"N"},"transform":[{"filter":"datum.p=='C3'&&datum.k=='e'"}],"mark":{"type":"text","style":"te"},"encoding":{"x":{"field":"T","type":"quantitative","axis":null},"y":{"field":"w","type":"quantitative","axis":null},"text":{"field":"t"}}}
 ]}
]
}
